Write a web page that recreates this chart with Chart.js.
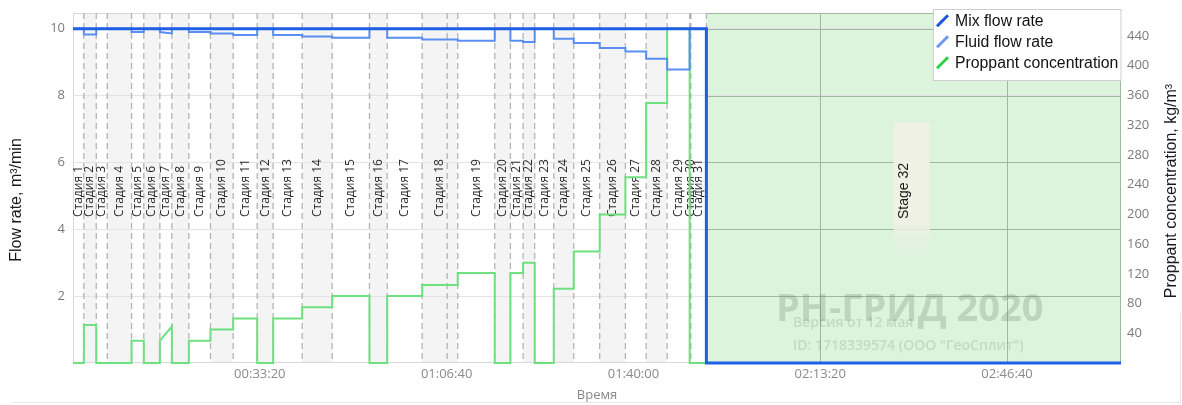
<!DOCTYPE html>
<html><head><meta charset="utf-8">
<script src="https://cdn.jsdelivr.net/npm/chart.js@4.4.1/dist/chart.umd.min.js"></script>
<style>html,body{margin:0;padding:0;background:#fff;overflow:hidden;} canvas{display:block;}</style>
</head><body>
<canvas id="c" width="1182" height="405" style="width:1182px;height:405px"></canvas>
<script>
// ---------- DATA ----------
const stageLabels = ['Стадия 1','Стадия 2','Стадия 3','Стадия 4','Стадия 5','Стадия 6','Стадия 7','Стадия 8',
  'Стадия 9','Стадия 10','Стадия 11','Стадия 12','Стадия 13','Стадия 14','Стадия 15','Стадия 16',
  'Стадия 17','Стадия 18','Стадия 19','Стадия 20','Стадия 21','Стадия 22','Стадия 23','Стадия 24',
  'Стадия 25','Стадия 26','Стадия 27','Стадия 28','Стадия 29','Стадия 30','Стадия 31','Stage 32'];
// stage start times, seconds
const stageStart = [0,116,249,367,627,758,930,1058,1240,1472,1715,1972,2143,2454,2775,3174,
  3364,3738,4119,4515,4683,4819,4943,5147,5361,5639,5914,6136,6361,6602,6615,6781];
const endTime = 11220;
// Mix flow rate, m3/min
const mixRate = [10,10,10,10,10,10,10,10,10,10,10,10,10,10,10,10,10,10,10,10,10,10,10,10,10,10,10,10,10,10,10,0];
// Fluid flow rate, m3/min (start / end of each stage)
const fluidStart = [10,9.83,10,10,9.9,10,9.9,10,9.9,9.86,9.81,10,9.81,9.77,9.73,10,
  9.73,9.68,9.64,10,9.64,9.6,10,9.7,9.57,9.42,9.32,9.1,8.78,10,10,0];
const fluidEnd   = [10,9.83,10,10,9.9,10,9.86,10,9.9,9.86,9.81,10,9.81,9.77,9.73,10,
  9.73,9.68,9.64,10,9.64,9.6,10,9.7,9.57,9.42,9.32,9.1,8.78,10,10,0];
// Proppant concentration, kg/m3 (start / end of each stage)
const propStart = [0,51,0,0,30,0,30,0,30,45,60,0,60,75,90,0,
  90,105,121,0,121,135,0,100,150,200,250,350,450,0,0,0];
const propEnd   = [0,51,0,0,30,0,49,0,30,45,60,0,60,75,90,0,
  90,105,121,0,121,135,0,100,150,200,250,350,450,0,0,0];
const extraMarkers = [4006];
const timeTicks = [2000,4000,6000,8000,10000];
const flowTicks = [2,4,6,8,10];
const concTicks = [40,80,120,160,200,240,280,320,360,400,440];

// ---------- BUILD ----------
function stepSeries(a, b) {
  const pts = [];
  for (let i = 0; i < stageStart.length; i++) {
    const x0 = stageStart[i];
    const x1 = i < stageStart.length - 1 ? stageStart[i + 1] : endTime;
    pts.push({x: x0, y: a[i]}, {x: x1, y: b[i]});
  }
  return pts;
}
function fmtTime(v) {
  const h = Math.floor(v / 3600), m = Math.floor((v % 3600) / 60), s = Math.round(v % 60);
  const p = n => String(n).padStart(2, '0');
  return p(h) + ':' + p(m) + ':' + p(s);
}

Chart.defaults.font.family = "'Open Sans', 'Noto Sans', sans-serif";

const SANS = "'Liberation Sans', Arial, sans-serif";
const legendColors = ['#1b56dc', '#6e98f2', '#2fd04a'];

const decor = {
  id: 'decor',
  beforeDraw(chart) {
    const {ctx, chartArea: a, scales: {x}} = chart;
    ctx.save();
    ctx.fillStyle = '#fff';
    ctx.fillRect(0, 0, chart.width, chart.height);
    const n = stageStart.length;
    for (let i = 0; i < n - 1; i++) {
      if (i % 2 === 1) {
        const x0 = x.getPixelForValue(stageStart[i]);
        const x1 = x.getPixelForValue(stageStart[i + 1]);
        ctx.fillStyle = '#f4f4f4';
        ctx.fillRect(x0, a.top, x1 - x0, a.bottom - a.top);
      }
    }
    const zx = x.getPixelForValue(stageStart[n - 1]);
    ctx.fillStyle = '#dcf3dc';
    ctx.fillRect(zx, a.top, a.right - zx, a.bottom - a.top);
    ctx.restore();
  },
  beforeDatasetsDraw(chart) {
    const {ctx, chartArea: a, scales: {x, y}} = chart;
    const n = stageStart.length;
    const zx = x.getPixelForValue(stageStart[n - 1]);
    ctx.save();
    // plot border (white region)
    ctx.strokeStyle = '#d9d9d9';
    ctx.lineWidth = 1;
    ctx.beginPath();
    ctx.moveTo(a.left + 0.5, a.bottom); ctx.lineTo(a.left + 0.5, a.top + 0.5); ctx.lineTo(zx, a.top + 0.5);
    ctx.moveTo(a.left, a.bottom - 0.5); ctx.lineTo(zx, a.bottom - 0.5);
    ctx.stroke();
    // darker grid inside green zone
    ctx.strokeStyle = '#a2b7a2';
    ctx.beginPath();
    flowTicks.forEach(v => { const py = Math.round(y.getPixelForValue(v)) + 0.5; ctx.moveTo(zx, py); ctx.lineTo(a.right, py); });
    timeTicks.forEach(v => { if (v > stageStart[n - 1]) { const pxv = Math.round(x.getPixelForValue(v)) + 0.5; ctx.moveTo(pxv, a.top); ctx.lineTo(pxv, a.bottom); } });
    ctx.moveTo(zx, a.top + 0.5); ctx.lineTo(a.right, a.top + 0.5);
    ctx.moveTo(a.right - 0.5, a.top); ctx.lineTo(a.right - 0.5, a.bottom);
    ctx.stroke();
    // stage dashed boundaries
    ctx.strokeStyle = '#b4b4b4';
    ctx.lineWidth = 1.3;
    ctx.setLineDash([6, 4]);
    ctx.beginPath();
    stageStart.slice(1).concat(extraMarkers).forEach(t => {
      const pxv = x.getPixelForValue(t);
      ctx.moveTo(pxv, a.top); ctx.lineTo(pxv, a.bottom);
    });
    ctx.stroke();
    ctx.setLineDash([]);
    // stage labels
    ctx.fillStyle = '#2a2a2a';
    ctx.font = "12px 'Open Sans', sans-serif";
    ctx.textAlign = 'left';
    ctx.textBaseline = 'middle';
    for (let i = 0; i < n - 1; i++) {
      const cx = (x.getPixelForValue(stageStart[i]) + x.getPixelForValue(stageStart[i + 1])) / 2;
      ctx.save();
      ctx.translate(cx, a.top + 204);
      ctx.rotate(-Math.PI / 2);
      ctx.fillText(stageLabels[i], 0, 0);
      ctx.restore();
    }
    // last stage label box
    const cLast = (zx + a.right) / 2;
    const bx = cLast - 20, bw = 36, by = a.top + 110, bh = 133;
    const g = ctx.createLinearGradient(0, by, 0, by + bh);
    g.addColorStop(0, '#eef1e4'); g.addColorStop(0.75, '#eef1e4'); g.addColorStop(1, 'rgba(238,241,228,0)');
    ctx.fillStyle = g;
    ctx.fillRect(bx, by, bw, bh);
    ctx.save();
    ctx.translate(bx + 10, a.top + 178);
    ctx.rotate(-Math.PI / 2);
    ctx.textAlign = 'center';
    ctx.font = "14px " + SANS;
    ctx.fillStyle = '#1a1a1a';
    ctx.fillText(stageLabels[n - 1], 0, 0);
    ctx.restore();
    // watermark
    ctx.fillStyle = 'rgba(95,120,95,0.25)';
    ctx.font = "bold 38px 'Open Sans', sans-serif";
    ctx.textAlign = 'left';
    ctx.textBaseline = 'alphabetic';
    ctx.fillText('РН-ГРИД 2020', 776, 321);
    ctx.fillStyle = 'rgba(95,120,95,0.2)';
    ctx.font = "600 14px 'Open Sans', sans-serif";
    ctx.textBaseline = 'middle';
    ctx.fillText('Версия от 12 мая', 793, 323);
    ctx.fillText('ID: 1718339574 (ООО "ГеоСплит")', 793, 346);
    ctx.restore();
  },
  afterDraw(chart) {
    const {ctx, chartArea: a} = chart;
    ctx.save();
    // axis titles
    ctx.fillStyle = '#1a1a1a';
    ctx.font = "16px " + SANS;
    ctx.textAlign = 'center';
    ctx.textBaseline = 'middle';
    ctx.save(); ctx.translate(17, 200); ctx.rotate(-Math.PI / 2);
    ctx.fillText('Flow rate, m³/min', 0, 0); ctx.restore();
    ctx.save(); ctx.translate(1172, 191); ctx.rotate(-Math.PI / 2);
    ctx.fillText('Proppant concentration, kg/m³', 0, 0); ctx.restore();
    ctx.fillStyle = '#8a8a8a';
    ctx.font = "13px 'Open Sans', sans-serif";
    ctx.fillText('Время', (a.left + a.right) / 2 - 0, 395);
    // legend
    const lx = 933.5, ly = 9.5, lw = a.right - 933.5, lh = 71;
    ctx.fillStyle = '#fff';
    ctx.fillRect(lx, ly, lw, lh);
    ctx.strokeStyle = '#cfcfcf';
    ctx.lineWidth = 1;
    ctx.strokeRect(lx, ly, lw, lh);
    ctx.font = "15.8px " + SANS;
    ctx.textAlign = 'left';
    chart.data.datasets.forEach((ds, i) => {
      const cy = 20.7 + i * 21;
      ctx.strokeStyle = legendColors[i];
      ctx.lineWidth = 3;
      ctx.beginPath(); ctx.moveTo(937, cy + 5.5); ctx.lineTo(948, cy - 5.5); ctx.stroke();
      ctx.fillStyle = '#111';
      ctx.fillText(ds.label, 955, cy + 0.5);
    });
    // outer panel edges
    ctx.strokeStyle = '#e6e6e6';
    ctx.lineWidth = 1;
    ctx.beginPath();
    ctx.moveTo(13, 402.5); ctx.lineTo(1180.5, 402.5); ctx.lineTo(1180.5, 313);
    ctx.stroke();
    ctx.restore();
  }
};

new Chart(document.getElementById('c'), {
  type: 'line',
  data: {
    datasets: [
      {label: 'Mix flow rate', data: stepSeries(mixRate, mixRate), borderColor: '#1f5fe6', borderWidth: 3, yAxisID: 'y', order: 0},
      {label: 'Fluid flow rate', data: stepSeries(fluidStart, fluidEnd), borderColor: '#5b8ef2', borderWidth: 2, yAxisID: 'y', order: 1},
      {label: 'Proppant concentration', data: stepSeries(propStart, propEnd), borderColor: '#6fe07f', borderWidth: 2, yAxisID: 'y1', order: 2}
    ]
  },
  options: {
    responsive: false,
    animation: false,
    layout: {padding: {top: 13, left: 0, right: 0, bottom: 0}},
    elements: {point: {radius: 0}, line: {tension: 0, borderJoinStyle: 'miter', borderCapStyle: 'butt', fill: false}},
    datasets: {line: {clip: 4}},
    plugins: {legend: {display: false}, tooltip: {enabled: false}},
    scales: {
      x: {
        type: 'linear', min: 0, max: endTime,
        afterBuildTicks: s => { s.ticks = timeTicks.map(v => ({value: v})); },
        afterFit: s => { s.height = 42; s.paddingLeft = 0; s.paddingRight = 0; },
        grid: {display: false, drawTicks: false},
        border: {display: false},
        ticks: {callback: v => fmtTime(v), color: '#8a8a8a', font: {size: 13}, padding: 3, maxRotation: 0, autoSkip: false}
      },
      y: {
        position: 'left', min: 0, max: 10.47,
        afterBuildTicks: s => { s.ticks = flowTicks.map(v => ({value: v})); },
        afterFit: s => { s.width = 73; s.paddingTop = 0; s.paddingBottom = 0; },
        grid: {color: '#e3e3e3', drawTicks: false},
        border: {display: false},
        ticks: {color: '#7a7a7a', font: {size: 13}, padding: 8}
      },
      y1: {
        position: 'right', min: 0, max: 471,
        afterBuildTicks: s => { s.ticks = concTicks.map(v => ({value: v})); },
        afterFit: s => { s.width = 61; s.paddingTop = 0; s.paddingBottom = 0; },
        grid: {display: false, drawTicks: false},
        border: {display: false},
        ticks: {color: '#7a7a7a', font: {size: 13}, padding: 6}
      }
    }
  },
  plugins: [decor]
});
</script>
</body></html>
